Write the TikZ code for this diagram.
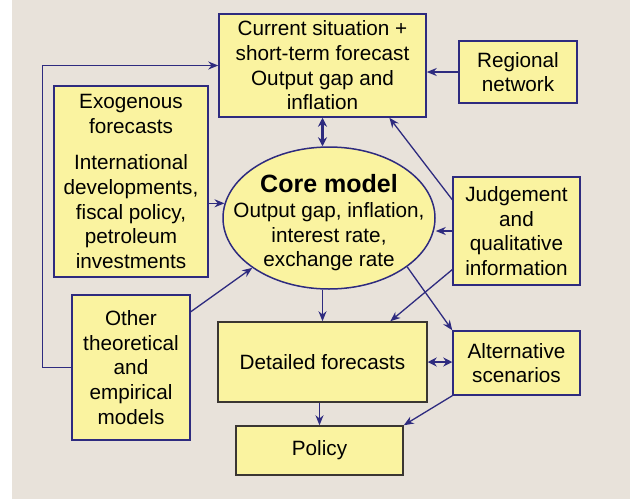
\documentclass[tikz,border=0pt]{standalone}
\usepackage{fontspec}
\setmainfont{Liberation Sans}
\usetikzlibrary{shapes.geometric,arrows.meta}
\definecolor{bgbeige}{HTML}{E8E2DA}
\definecolor{boxyellow}{HTML}{FAF3A0}
\definecolor{linenavy}{HTML}{2E2B7F}
\definecolor{linedark}{HTML}{3A3632}

\begin{document}
\begin{tikzpicture}[
    x=1pt, y=-1pt,
    every node/.style={font=\fontsize{20.7}{24.7}\selectfont},
    block/.style={
        rectangle,
        draw=linenavy,
        line width=1.5pt,
        fill=boxyellow,
        inner sep=0pt,
        align=center
    },
    coreshape/.style={
        ellipse,
        draw=linenavy,
        line width=1.5pt,
        fill=boxyellow,
        inner sep=0pt,
        minimum width=212pt,
        minimum height=142pt
    },
    link/.style={-{Stealth[length=10pt,width=8pt]}, draw=linenavy, line width=1.3pt},
    biglink/.style={{Stealth[length=9pt,width=9pt]}-{Stealth[length=9pt,width=9pt]},
        draw=linenavy, line width=2.5pt}
]

    % Sfondo
    \fill[white] (0,0) rectangle (630,499);
    \fill[bgbeige] (12,0) rectangle (630,499);
    \useasboundingbox (0,0) rectangle (630,499);

    % Modello centrale
    \node[coreshape] (core) at (329,218) {};
    \node[align=center] (coretext) at ([yshift=-5pt]core.center)
         {{\fontsize{25}{28}\selectfont\textbf{Core model}}\\Output gap, inflation,\\interest rate,\\exchange rate};

    % Blocchi
    \node[block, minimum width=207pt, minimum height=103pt] (current) at (322.5,65.5)
         {Current situation +\\short-term forecast\\Output gap and\\inflation};
    \node[block, minimum width=118pt, minimum height=62pt] (regional) at (518,72)
         {Regional\\network};
    \node[block, minimum width=154pt, minimum height=191pt] (exo) at (131,181.5)
         {Exogenous\\forecasts\\[12pt]International\\developments,\\fiscal policy,\\petroleum\\investments};
    \node[block, minimum width=127pt, minimum height=108pt] (judge) at (516.5,231)
         {Judgement\\and\\qualitative\\information};
    \node[block, minimum width=118pt, minimum height=145pt] (other) at (131,367.5)
         {Other\\theoretical\\and\\empirical\\models};
    \node[block, draw=linedark, minimum width=209pt, minimum height=80pt] (detailed) at (322.5,362)
         {Detailed forecasts};
    \node[block, minimum width=127pt, minimum height=64pt] (alt) at (516.5,363)
         {Alternative\\scenarios};
    \node[block, draw=linedark, minimum width=167pt, minimum height=49pt] (policy) at (319.5,450.5)
         {Policy};

    % Connessioni
    \draw[link] (other.west) -- ++(-29,0) |- (current.west);
    \draw[link] (exo.east |- core.172) -- (core.172);
    \draw[link] (other.43) -- (core.213);
    \draw[biglink] (current.south) -- (current.south |- core.north);
    \draw[link] (regional.west) -- (regional.west -| current.east);
    \draw[link] (judge.154) -- (current.-38);
    \draw[link] (judge.west) -- (judge.west -| core.east);
    \draw[link] (judge.211) -- (detailed.31);
    \draw[link] (core.-32) -- (alt.north west);
    \draw[link] (core.south -| detailed.north) -- (detailed.north);
    \draw[biglink] (detailed.east) -- (detailed.east -| alt.west);
    \draw[link] (detailed.south -| policy.north) -- (policy.north);
    \draw[link] (alt.south west) -- (policy.north east);
\end{tikzpicture}
\end{document}
